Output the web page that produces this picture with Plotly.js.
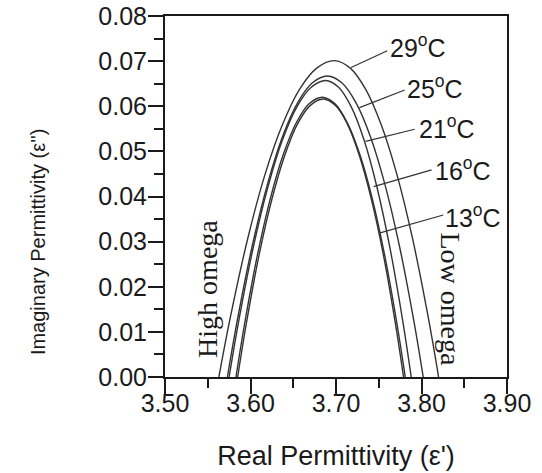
<!DOCTYPE html>
<html>
<head>
<meta charset="utf-8">
<script src="https://cdn.plot.ly/plotly-3.0.1.min.js"></script>
<style>
html,body{margin:0;padding:0;background:#fff;}
#chart{width:542px;height:473px;}
</style>
</head>
<body>
<div id="chart"></div>
<script>
// Curve labels
const tempLabels = ['29<sup>o</sup>C', '25<sup>o</sup>C', '21<sup>o</sup>C', '16<sup>o</sup>C', '13<sup>o</sup>C'];
const xTitle = "Real Permittivity (\u03b5')";
const yTitle = "Imaginary Permittivity (\u03b5'')";

// Cole-Cole arcs (real permittivity, imaginary permittivity)
const x29 = [3.563, 3.5765, 3.5968, 3.617, 3.6373, 3.6575, 3.6778, 3.698, 3.7163, 3.7346, 3.7529, 3.7712, 3.7895, 3.8078, 3.820];
const y29 = [0.0, 0.0133, 0.0307, 0.0449, 0.0559, 0.0638, 0.0685, 0.0701, 0.0685, 0.0638, 0.0559, 0.0449, 0.0307, 0.0133, 0.0];

const x25 = [3.573, 3.5847, 3.6022, 3.6198, 3.6373, 3.6549, 3.6724, 3.690, 3.7068, 3.7236, 3.7404, 3.7572, 3.774, 3.7908, 3.802];
const y25 = [0.0, 0.0127, 0.0292, 0.0427, 0.0532, 0.0607, 0.0652, 0.0667, 0.0652, 0.0607, 0.0532, 0.0427, 0.0292, 0.0127, 0.0];

const x21 = [3.575, 3.5863, 3.6032, 3.6202, 3.6371, 3.6541, 3.671, 3.688, 3.703, 3.718, 3.733, 3.748, 3.763, 3.778, 3.788];
const y21 = [0.0, 0.0125, 0.0287, 0.0420, 0.0524, 0.0598, 0.0642, 0.0657, 0.0642, 0.0598, 0.0524, 0.0420, 0.0287, 0.0125, 0.0];

const x16 = [3.583, 3.5931, 3.6082, 3.6234, 3.6385, 3.6537, 3.6688, 3.684, 3.6986, 3.7131, 3.7277, 3.7422, 3.7568, 3.7713, 3.781];
const y16 = [0.0, 0.0118, 0.0271, 0.0397, 0.0494, 0.0564, 0.0606, 0.0620, 0.0606, 0.0564, 0.0494, 0.0397, 0.0271, 0.0118, 0.0];

const x13 = [3.585, 3.595, 3.610, 3.625, 3.640, 3.655, 3.670, 3.685, 3.6991, 3.7132, 3.7273, 3.7414, 3.7555, 3.7696, 3.779];
const y13 = [0.0, 0.0117, 0.0270, 0.0394, 0.0491, 0.0561, 0.0602, 0.0616, 0.0602, 0.0561, 0.0491, 0.0394, 0.0270, 0.0117, 0.0];

// Leader lines (tip on curve -> end near label) and label anchors
const leaderTipX = [3.7176, 3.7274, 3.7345, 3.7440, 3.7505];
const leaderTipY = [0.0686, 0.0597, 0.0522, 0.0422, 0.0319];
const leaderEndX = [3.7600, 3.7804, 3.7921, 3.8118, 3.8255];
const leaderEndY = [0.0723, 0.0636, 0.0549, 0.0459, 0.0359];
const labelX = [3.7605, 3.7805, 3.7945, 3.8135, 3.8252];
const labelY = [0.0734, 0.0642, 0.0553, 0.0461, 0.0357];

const xTickVals = [3.50, 3.60, 3.70, 3.80, 3.90];
const yTickVals = [0.00, 0.01, 0.02, 0.03, 0.04, 0.05, 0.06, 0.07, 0.08];

const curveX = [x29, x25, x21, x16, x13];
const curveY = [y29, y25, y21, y16, y13];

const lineColor = '#333333';
const ink = '#1a1a1a';
const sans = 'Liberation Sans, Arial, Helvetica, sans-serif';
const serif = 'Liberation Serif, Times New Roman, serif';

const traces = curveX.map((xs, i) => ({
  x: xs, y: curveY[i], type: 'scatter', mode: 'lines',
  line: {color: lineColor, width: 1.4, shape: 'spline', smoothing: 1},
  hoverinfo: 'skip', showlegend: false
}));

const shapes = leaderTipX.map((tx, i) => ({
  type: 'line', xref: 'x', yref: 'y',
  x0: tx, y0: leaderTipY[i], x1: leaderEndX[i], y1: leaderEndY[i],
  line: {color: lineColor, width: 1.2}
}));

const annotations = tempLabels.map((t, i) => ({
  x: labelX[i], y: labelY[i], xref: 'x', yref: 'y',
  text: t, showarrow: false, xanchor: 'left', yanchor: 'middle',
  font: {family: sans, size: 25, color: ink}
}));
annotations.push({
  x: 3.549, y: 0.0195, xref: 'x', yref: 'y', text: 'High omega',
  showarrow: false, textangle: -90, xanchor: 'center', yanchor: 'middle',
  font: {family: serif, size: 28, color: ink}
});
annotations.push({
  x: 3.8345, y: 0.0172, xref: 'x', yref: 'y', text: 'Low omega',
  showarrow: false, textangle: 90, xanchor: 'center', yanchor: 'middle',
  font: {family: serif, size: 28, color: ink}
});
// y-axis title, placed (as in the reference) below the axis centre
annotations.push({
  x: -0.371, y: 0.374, xref: 'paper', yref: 'paper', text: yTitle,
  showarrow: false, textangle: -90, xanchor: 'center', yanchor: 'middle',
  font: {family: sans, size: 20, color: ink}
});

const layout = {
  width: 542, height: 473,
  margin: {l: 165, r: 35, t: 16, b: 96, pad: 0},
  paper_bgcolor: '#fff', plot_bgcolor: '#fff',
  showlegend: false,
  xaxis: {
    range: [3.5, 3.9], tickvals: xTickVals, tickformat: '.2f',
    ticks: 'outside', ticklen: 15, tickwidth: 2, tickcolor: ink,
    ticklabelstandoff: -12,
    minor: {ticks: 'outside', ticklen: 9, tickwidth: 2, dtick: 0.05, tick0: 3.5, tickcolor: ink, showgrid: false},
    showline: true, linewidth: 2, linecolor: ink, mirror: true,
    showgrid: false, zeroline: false,
    tickfont: {family: sans, size: 25, color: ink},
    title: {text: xTitle, standoff: 30, font: {family: sans, size: 27, color: ink}}
  },
  yaxis: {
    range: [0, 0.08], tickvals: yTickVals, tickformat: '.2f',
    ticks: 'outside', ticklen: 15, tickwidth: 2, tickcolor: ink,
    ticklabelstandoff: -4,
    minor: {ticks: 'outside', ticklen: 9, tickwidth: 2, dtick: 0.005, tick0: 0, tickcolor: ink, showgrid: false},
    showline: true, linewidth: 2, linecolor: ink, mirror: true,
    showgrid: false, zeroline: false,
    tickfont: {family: sans, size: 25, color: ink},
    title: {text: ''}
  },
  shapes: shapes,
  annotations: annotations
};

Plotly.newPlot('chart', traces, layout, {displayModeBar: false, responsive: false});
</script>
</body>
</html>
